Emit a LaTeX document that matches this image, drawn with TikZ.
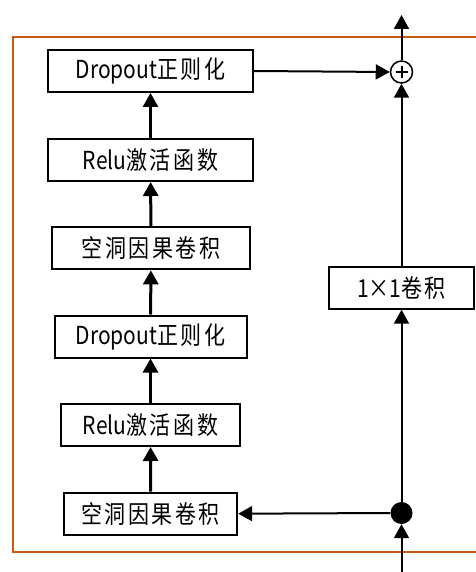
\documentclass[tikz,border=0pt]{standalone}
\usepackage{fontspec}
\usepackage{graphicx}
\usetikzlibrary{arrows.meta}
\newfontfamily\latf{Noto Sans CJK SC}
\newfontfamily\cjkf[LetterSpace=12]{Noto Sans CJK SC}
\definecolor{frameorange}{HTML}{C55A11}
\newcommand{\lt}[1]{{\latf #1}}
\newcommand{\ck}[1]{{\cjkf #1}}
\newcommand{\tl}[1]{\scalebox{1}[1.18]{#1}}
\tikzset{
  blk/.style={draw=black, line width=2pt, fill=white, minimum height=42pt, inner sep=0pt,
    font=\fontsize{21}{25}\selectfont},
  thk/.style={line width=3pt, -{Triangle[length=14pt,width=15pt]}},
  thn/.style={line width=2pt, -{Triangle[length=14pt,width=15pt]}},
}
\begin{document}
\begin{tikzpicture}[x=1pt,y=-1pt]
\useasboundingbox (0,0) rectangle (475,572);
\fill[white] (0,0) rectangle (475,572);
% frame
\draw[frameorange, line width=2pt] (478,37.5) -- (13,37.5) -- (13,551.5) -- (478,551.5);
% left column
\node[blk, minimum width=205pt] (b1) at (150.5,71) {\tl{\lt{Dropout}\ck{正则化}}};
\node[blk, minimum width=205pt] (b2) at (150.5,160) {\tl{\lt{Relu}\ck{激活函数}}};
\node[blk, minimum width=198pt] (b3) at (151,248.3) {\tl{\ck{空洞因果卷积}}};
\node[blk, minimum width=192pt] (b4) at (150.5,336.5) {\tl{\lt{Dropout}\ck{正则化}}};
\node[blk, minimum width=179pt] (b5) at (150.5,425) {\tl{\lt{Relu}\ck{激活函数}}};
\node[blk, minimum width=173pt] (b6) at (150.7,513.7) {\tl{\ck{空洞因果卷积}}};
% right column
\node[blk, minimum width=145pt] (c1) at (401.5,287.7) {\tl{\lt{1×1}\ck{卷积}}};
\node[draw=black, line width=1.5pt, circle, minimum size=22pt, inner sep=0pt, fill=white] (plus) at (401.5,72) {};
\draw[line width=2pt] ([xshift=-6pt]plus.center) -- ([xshift=6pt]plus.center)
  ([yshift=-6pt]plus.center) -- ([yshift=6pt]plus.center);
\node[fill=black, circle, minimum size=22pt, inner sep=0pt] (dot) at (401.5,513) {};
\coordinate (top) at (401.5,15);
\coordinate (bot) at (401.5,572);
% connectors
\draw[thk] (b6) -- (b5);
\draw[thk] (b5) -- (b4);
\draw[thk] (b4) -- (b3);
\draw[thk] (b3) -- (b2);
\draw[thk] (b2) -- (b1);
\draw[thn] (b1.east) -- (plus.west);
\draw[thn] (bot) -- (dot.south);
\draw[thn] (dot.north) -- (c1.south);
\draw[thn] (c1.north) -- (plus.south);
\draw[thn] (plus.north) -- (top);
\draw[thn] (dot.west) -- (b6.east);
\end{tikzpicture}
\end{document}
